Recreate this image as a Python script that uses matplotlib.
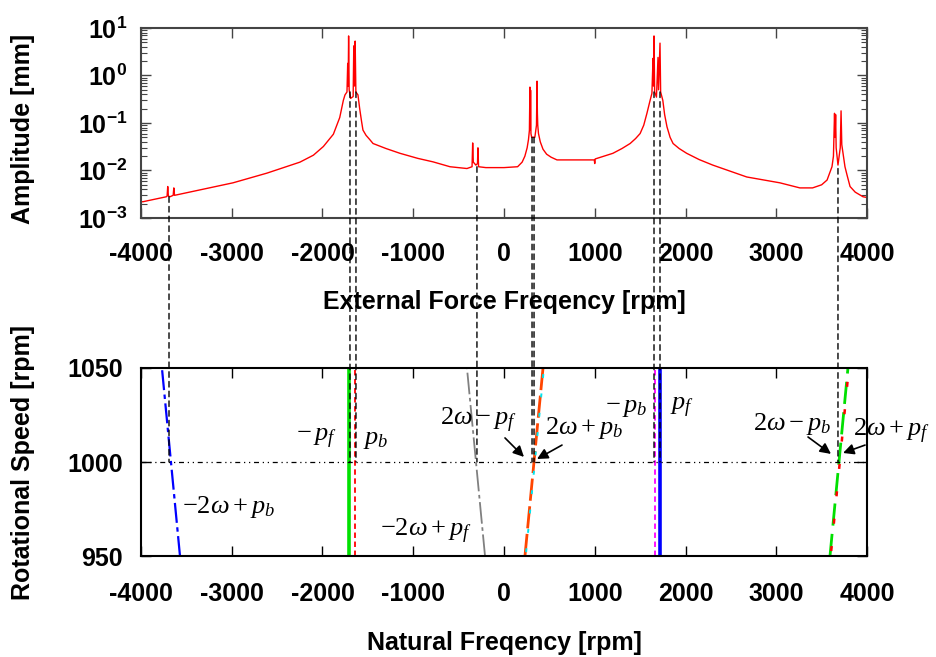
import numpy as np
import matplotlib
matplotlib.use('Agg')
import matplotlib.pyplot as plt
from matplotlib.patches import ConnectionPatch
from matplotlib.ticker import LogLocator, NullFormatter

# upper panel: amplitude spectrum
ext_freq = [-4000, -3978, -3800, -3720, -3712, -3705, -3698, -3680, -3645, -3638, -3630,
            -3350, -2986, -2612, -2248, -2100, -1990, -1880, -1810, -1770, -1752, -1730,
            -1722, -1717, -1712, -1706, -1690, -1662, -1655, -1648, -1640, -1632,
            -1609, -1590, -1570, -1554, -1520, -1480, -1443, -1300, -1146, -950, -782, -595, -408, -352,
            -345, -338, -310, -292, -287, -280, -200, 0, 150, 200, 230, 255, 270,
            280, 286, 290, 293, 297, 305, 340, 358, 364, 368, 372, 380, 400, 430, 470, 520, 584,
            870, 995, 1000, 1005, 1200, 1300, 1390, 1450, 1500, 1540, 1575, 1610, 1630,
            1642, 1647, 1653, 1660, 1680, 1697, 1703, 1719, 1726, 1750, 1770, 1796, 1830, 1863,
            1930, 2013, 2150, 2300, 2675, 3040, 3260, 3400, 3500, 3560, 3590, 3614, 3630,
            3642, 3648, 3654, 3660, 3680, 3705, 3714, 3722, 3757, 3780, 3813, 3870, 3956, 4000]
amplitude = [0.0022, 0.0022, 0.0026, 0.0028, 0.0029, 0.0046, 0.0029, 0.0028, 0.003, 0.0043, 0.003,
             0.0039, 0.0055, 0.0088, 0.015, 0.021, 0.032, 0.058, 0.13, 0.3, 0.39, 0.45,
             1.8, 0.6, 6.8, 0.5, 0.33, 0.36, 4.2, 0.6, 5.3, 0.45,
             0.39, 0.2, 0.11, 0.071, 0.055, 0.045, 0.037, 0.029, 0.023, 0.018, 0.0152, 0.012, 0.011, 0.012,
             0.038, 0.015, 0.013, 0.014, 0.030, 0.012, 0.0115, 0.0115, 0.012, 0.015, 0.02, 0.03, 0.045,
             0.07, 0.57, 0.07, 0.49, 0.06, 0.05, 0.05, 0.09, 0.76, 0.16, 0.09, 0.06, 0.04, 0.028, 0.022, 0.019, 0.0167,
             0.0167, 0.0167, 0.014, 0.0175, 0.023, 0.029, 0.037, 0.047, 0.06, 0.09, 0.16, 0.3, 0.42,
             2.3, 0.6, 6.8, 0.45, 0.35, 2.4, 0.5, 4.8, 0.45, 0.3, 0.15, 0.083, 0.05, 0.037,
             0.029, 0.023, 0.017, 0.013, 0.0073, 0.0055, 0.0043, 0.0043, 0.005, 0.0063, 0.009, 0.012, 0.02,
             0.16, 0.05, 0.15, 0.03, 0.013, 0.03, 0.18, 0.035, 0.012, 0.008, 0.0046, 0.0035, 0.0028, 0.0027]

# lower panel: each branch's natural frequency at 950 and 1050 rpm
omega = [950, 1050]
nf_m2w_pb = [-3570, -3769]    # -2w + p_b
nf_m_pf = [-1708, -1708]      # -p_f
nf_pb = [-1642, -1642]        # p_b
nf_m2w_pf = [-209, -408]      # -2w + p_f
nf_2w_m_pf = [231, 430]       # 2w - p_f
nf_2w_pb = [240, 440]         # 2w + p_b
nf_m_pb = [1664, 1664]        # -p_b
nf_pf = [1719, 1719]          # p_f
nf_2w_m_pb = [3592, 3790]     # 2w - p_b
nf_2w_pf = [3600, 3800]       # 2w + p_f

# dashed guides from the peaks down to the 1000 rpm line
guide_freq = [-3691, -1697, -1631, -298, 309, 331, 1653, 1719, 3680]
guide_amp = [0.0028, 0.45, 0.45, 0.012, 0.05, 0.05, 0.45, 0.45, 0.011]
guide_speed = 1000

plt.rcParams['font.family'] = ['Liberation Sans', 'DejaVu Sans']
plt.rcParams['font.weight'] = 'bold'
plt.rcParams['axes.labelweight'] = 'bold'
plt.rcParams['font.size'] = 18
plt.rcParams['axes.unicode_minus'] = False
plt.rcParams['mathtext.fontset'] = 'custom'
plt.rcParams['mathtext.rm'] = 'Liberation Serif:weight=normal'
plt.rcParams['mathtext.it'] = 'Liberation Serif:style=italic:weight=normal'
plt.rcParams['mathtext.bf'] = 'Liberation Serif:weight=bold'

fig = plt.figure(figsize=(9.36, 6.57), dpi=100)
ax1 = fig.add_axes([0.1506, 0.6682, 0.7757, 0.2892])
ax2 = fig.add_axes([0.1506, 0.1537, 0.7757, 0.2862])

# upper panel
ax1.plot(ext_freq, amplitude, color='red', lw=1)
ax1.set_yscale('log')
ax1.set_xlim(-4000, 4000)
ax1.set_ylim(1e-3, 1e1)
ax1.set_xticks(np.arange(-4000, 4001, 1000))
ax1.yaxis.set_major_locator(LogLocator(base=10, numticks=10))
ax1.yaxis.set_minor_locator(LogLocator(base=10, subs=np.arange(2, 10), numticks=20))
ax1.yaxis.set_minor_formatter(NullFormatter())
ax1.tick_params(which='major', direction='in', top=True, right=True, length=7, width=1,
                labelsize=18, color='#444444')
ax1.tick_params(axis='x', pad=17)
ax1.tick_params(axis='y', pad=10)
ax1.tick_params(which='minor', direction='in', right=True, length=4, width=0.8, color='#444444')
for s in ax1.spines.values():
    s.set_color('#444444')
    s.set_linewidth(1.5)
ax1.set_xlabel('External Force Freqency [rpm]', fontsize=18)
ax1.set_ylabel('Amplitude [mm]', fontsize=18)
ax1.xaxis.set_label_coords(0.5, -0.38)
ax1.yaxis.set_label_coords(-0.146, 0.47)

# lower panel
branches = [
    (nf_m2w_pb, dict(color='blue', lw=1.6, ls=(0, (9, 2, 2, 2)))),
    (nf_m_pf, dict(color='#00e000', lw=2.6, ls='-')),
    (nf_pb, dict(color='red', lw=1.3, ls=(0, (3, 2)))),
    (nf_m2w_pf, dict(color='gray', lw=1.3, ls=(0, (12, 2, 2, 2)))),
    (nf_2w_m_pf, dict(color='#ff4500', lw=2.0, ls=(0, (8, 2)))),
    (nf_2w_pb, dict(color='#00e5ee', lw=1.4, ls=(8, (2, 8)))),
    (nf_m_pb, dict(color='magenta', lw=1.3, ls=(0, (3, 2)))),
    (nf_pf, dict(color='blue', lw=2.6, ls='-')),
    (nf_2w_m_pb, dict(color='#00e000', lw=2.0, ls=(0, (8, 3)))),
    (nf_2w_pf, dict(color='red', lw=1.8, ls=(9, (2, 9)))),
]
for x, style in branches:
    ax2.plot(x, omega, **style)
ax2.axhline(guide_speed, color='k', lw=0.9, ls=(0, (4, 3, 1, 3, 1, 3)))

ax2.set_xlim(-4000, 4000)
ax2.set_ylim(950, 1050)
ax2.set_xticks(np.arange(-4000, 4001, 1000))
ax2.set_yticks([950, 1000, 1050])
ax2.tick_params(direction='in', top=True, right=True, length=7, width=1, labelsize=18)
ax2.tick_params(axis='x', pad=19)
ax2.tick_params(axis='y', pad=13)
for s in ax2.spines.values():
    s.set_linewidth(1.5)
ax2.set_xlabel('Natural Freqency [rpm]', fontsize=18)
ax2.set_ylabel('Rotational Speed [rpm]', fontsize=18)
ax2.xaxis.set_label_coords(0.5, -0.4)
ax2.yaxis.set_label_coords(-0.146, 0.5)

fs = 19
ax2.text(-3548, 976, r'$-2\omega+p_b$', fontsize=fs, va='center')
ax2.text(-1841, 1012, r'$-\,p_f$', fontsize=fs, va='center', ha='right')
ax2.text(-1554, 1012, r'$p_b$', fontsize=fs, va='center')
ax2.text(-705, 1022, r'$2\omega-p_f$', fontsize=fs, va='center')
ax2.text(452, 1018, r'$2\omega+p_b$', fontsize=fs, va='center')
ax2.text(1576, 1029, r'$-\,p_b$', fontsize=fs, va='center', ha='right')
ax2.text(1829, 1029, r'$p_f$', fontsize=fs, va='center')
ax2.text(2744, 1020, r'$2\omega-p_b$', fontsize=fs, va='center')
ax2.text(3846, 1016, r'$2\omega+p_f$', fontsize=fs, va='center', clip_on=False)
ax2.text(-1366, 963, r'$-2\omega+p_f$', fontsize=fs, va='center')

arrows = [((11, 1012.8), (220, 1002.7)),
          ((639, 1009.0), (364, 1001.6)),
          ((3350, 1013.3), (3603, 1004.3)),
          ((3978, 1009.0), (3736, 1004.8))]
for start, tip in arrows:
    ax2.annotate('', xy=tip, xytext=start,
                 arrowprops=dict(arrowstyle='-|>', color='k', lw=1.2, mutation_scale=16,
                                 shrinkA=0, shrinkB=0))

for f, a in zip(guide_freq, guide_amp):
    con = ConnectionPatch(xyA=(f, a), coordsA=ax1.transData,
                          xyB=(f, guide_speed), coordsB=ax2.transData,
                          color='k', lw=1, ls=(0, (4, 3)))
    fig.add_artist(con)

fig.savefig('out.png', dpi=100)
